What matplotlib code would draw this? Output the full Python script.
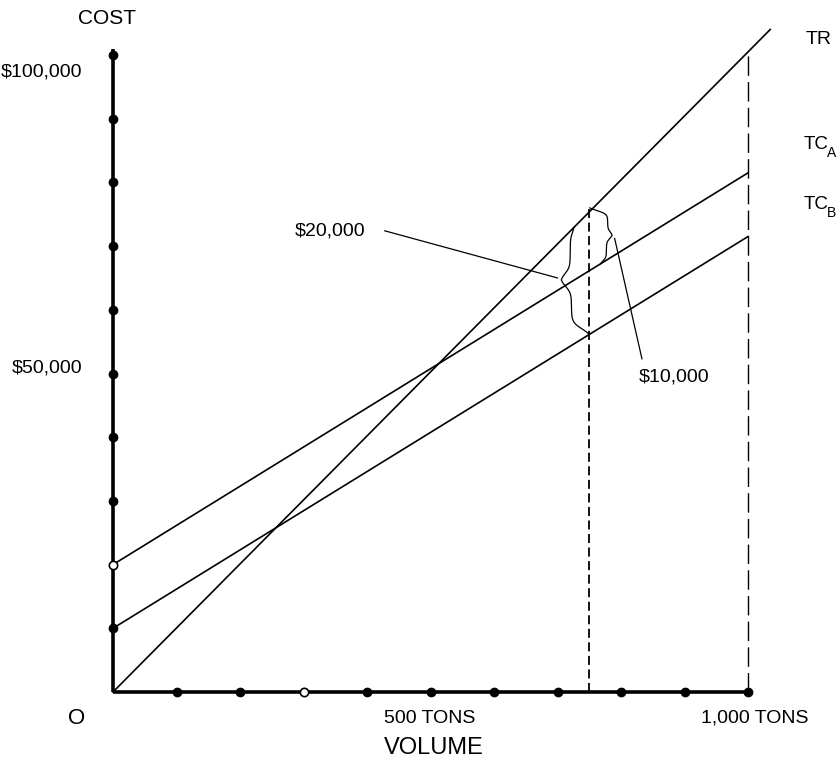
import numpy as np
import matplotlib
matplotlib.use("Agg")
import matplotlib.pyplot as plt

# ---------------- data ----------------
volume = [0, 1000]                 # tons
tc_a = [20000, 81500]              # total cost A
tc_b = [10000, 71500]              # total cost B
tr_volume = [0, 1035]
tr = [0, 104000]                   # total revenue
x_ticks = [100, 200, 300, 400, 500, 600, 700, 800, 900, 1000]
y_ticks = [10000, 20000, 30000, 40000, 50000, 60000, 70000, 80000, 90000, 100000]
open_x = 300                       # hollow dot on the volume axis
open_y = 20000                     # hollow dot on the cost axis
check_volume = 750                 # dashed line where the gaps are measured

fonts = ['Liberation Sans', 'DejaVu Sans']

fig = plt.figure(figsize=(8.39, 7.62), dpi=100)
ax = fig.add_axes([0, 0, 1, 1])
# map data to pixels: 0 tons -> 113px, 1000 -> 748px ; $0 -> 692px, $100k -> 55px
px_x = 635 / 1000
px_y = 637 / 100000
ax.set_xlim(-113 / px_x, (839 - 113) / px_x)
ax.set_ylim(-(762 - 692) / px_y, 692 / px_y)
ax.axis('off')

# axes with dots
ax.plot([0, 0], [0, 101000], color='black', lw=2.6, solid_capstyle='butt', zorder=3)
ax.plot([0, 1000], [0, 0], color='black', lw=2.6, solid_capstyle='butt', zorder=3)
ax.plot([t for t in x_ticks if t != open_x], [0] * (len(x_ticks) - 1), 'o',
        color='black', ms=6, zorder=4)
ax.plot([0] * (len(y_ticks) - 1), [v for v in y_ticks if v != open_y], 'o',
        color='black', ms=6, zorder=4)
ax.plot([open_x], [0], 'o', mfc='white', mec='black', ms=6, mew=1.2, zorder=5)
ax.plot([0], [open_y], 'o', mfc='white', mec='black', ms=6, mew=1.2, zorder=5)

# lines
ax.plot(tr_volume, tr, color='black', lw=1.2)
ax.plot(volume, tc_a, color='black', lw=1.2)
ax.plot(volume, tc_b, color='black', lw=1.2)

tr_at = lambda v: np.interp(v, tr_volume, tr)
tca_at = lambda v: np.interp(v, volume, tc_a)
tcb_at = lambda v: np.interp(v, volume, tc_b)

# dashed verticals
ax.plot([check_volume, check_volume], [0, tr_at(check_volume) + 1000], color='black',
        lw=1.3, dashes=(5, 2.5))
ax.plot([volume[1], volume[1]], [0, 100000], color='black', lw=1.0, dashes=(14, 4.5))


def half_brace(tip, spine, end, k=16):
    # goes from the brace tip (s=0) to one end (s=1)
    s = np.linspace(0, 1, 120)
    a = 1 / (1 + np.exp(-k * (s - 0.12)))
    b = 1 / (1 + np.exp(-k * (s - 0.9)))
    a = (a - a[0]) / (a[-1] - a[0])
    b = (b - b[0]) / (b[-1] - b[0])
    x = tip[0] + (spine - tip[0]) * a + (end[0] - spine) * b
    y = tip[1] + (end[1] - tip[1]) * s
    return x, y


def brace(tip, spine_lo, spine_hi, end_lo, end_hi):
    xl, yl = half_brace(tip, spine_lo, end_lo)
    xh, yh = half_brace(tip, spine_hi, end_hi)
    ax.plot(np.r_[xl[::-1], xh], np.r_[yl[::-1], yh], color='black', lw=0.9)


# $20,000 gap: TR vs TC_B (left brace)
brace((706, 64700), 722, 720, (750, tcb_at(750)), (726, tr_at(726)))
# $10,000 gap: TR vs TC_A (right brace)
brace((786, 71700), 777, 779, (768, tca_at(768)), (751, 76000))

ax.plot([428, 700], [72400, 65000], color='black', lw=0.9)
ax.plot([790, 833], [71200, 52300], color='black', lw=0.9)
ax.text(397, 72400, '$20,000', ha='right', va='center', fontsize=14, family=fonts)
ax.text(828, 49400, '$10,000', ha='left', va='center', fontsize=14, family=fonts)

# line labels
ax.text(1112, 102400, 'TR', ha='center', va='center', fontsize=14, family=fonts)
ax.text(1087, 85900, 'TC', ha='left', va='center', fontsize=13.5, family=fonts)
ax.text(1125, 84600, 'A', ha='left', va='center', fontsize=10, family=fonts)
ax.text(1087, 76500, 'TC', ha='left', va='center', fontsize=13.5, family=fonts)
ax.text(1125, 75200, 'B', ha='left', va='center', fontsize=10, family=fonts)

# axis labels
ax.text(-49, 97300, '$100,000', ha='right', va='center', fontsize=14, family=fonts)
ax.text(-49, 50900, '$50,000', ha='right', va='center', fontsize=14, family=fonts)
ax.text(-9, 105800, 'COST', ha='center', va='center', fontsize=15, family=fonts)

ax.text(-57, -4100, 'O', ha='center', va='center', fontsize=16, family=fonts)
ax.text(499, -4100, '500 TONS', ha='center', va='center', fontsize=14, family=fonts)
ax.text(1011, -4100, '1,000 TONS', ha='center', va='center', fontsize=14, family=fonts)
ax.text(505, -8800, 'VOLUME', ha='center', va='center', fontsize=17, family=fonts)

fig.savefig('out.png', dpi=100)
